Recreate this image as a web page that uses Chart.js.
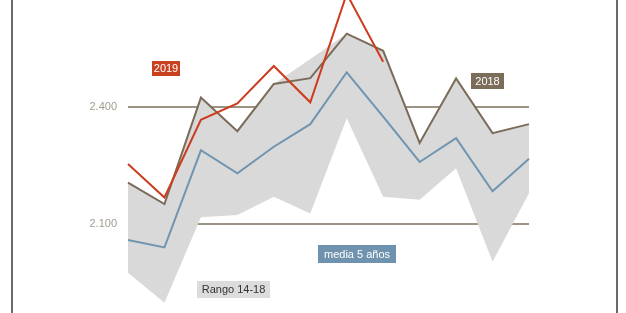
<!DOCTYPE html>
<html>
<head>
<meta charset="utf-8">
<script src="https://cdn.jsdelivr.net/npm/chart.js@4/dist/chart.umd.min.js"></script>
<style>
  body { margin: 0; background: #fff; }
  #marco { position: absolute; left: 11px; top: 0; width: 603px; height: 313px;
           border-left: 2px solid #6a6a6a; border-right: 2px solid #6a6a6a; }
  #wrap { position: absolute; left: 0; top: 0; width: 626px; height: 313px; }
</style>
</head>
<body>
<div id="marco"></div>
<div id="wrap"><canvas id="grafico"></canvas></div>
<script>
// datos
var meses = ['ene', 'feb', 'mar', 'abr', 'may', 'jun', 'jul', 'ago', 'sep', 'oct', 'nov', 'dic'];
var serie2019 = [2254, 2168, 2367, 2409, 2505, 2412, 2690, 2516, null, null, null, null];
var serie2018 = [2206, 2151, 2424, 2338, 2459, 2474, 2588, 2544, 2308, 2473, 2333, 2356];
var media5 = [2059, 2040, 2289, 2230, 2298, 2356, 2489, 2375, 2259, 2320, 2184, 2267];
var rangoMax = [2206, 2151, 2424, 2338, 2459, 2523, 2588, 2544, 2308, 2473, 2333, 2356];
var rangoMin = [1975, 1898, 2117, 2123, 2170, 2127, 2371, 2170, 2162, 2243, 2003, 2179];
var marcasY = [2100, 2400];

var fuente = '"Liberation Sans", Arial, sans-serif';

// etiquetas tipo caja sobre el grafico
var etiquetas = [
    { texto: '2019', x: 152, y: 61, w: 28, h: 15, fondo: '#c8421f', color: '#fff' },
    { texto: '2018', x: 471, y: 73, w: 33, h: 16, fondo: '#7c6c5a', color: '#fff' },
    { texto: 'media 5 años', x: 318, y: 245, w: 78, h: 18, fondo: '#6f93ae', color: '#fff' },
    { texto: 'Rango 14-18', x: 197, y: 281, w: 73, h: 17, fondo: '#dcdcdc', color: '#333' }
];

var pluginEtiquetas = {
    id: 'etiquetas',
    afterDraw: function (chart) {
        var ctx = chart.ctx;
        ctx.save();
        ctx.font = '11px ' + fuente;
        ctx.textAlign = 'center';
        ctx.textBaseline = 'middle';
        etiquetas.forEach(function (e) {
            ctx.fillStyle = e.fondo;
            ctx.fillRect(e.x, e.y, e.w, e.h);
            ctx.fillStyle = e.color;
            ctx.fillText(e.texto, e.x + e.w / 2, e.y + e.h / 2 + 0.5);
        });
        ctx.restore();
    }
};

function linea(label, data, color, orden) {
    return {
        label: label,
        data: data,
        borderColor: color,
        borderWidth: 2,
        pointRadius: 0,
        tension: 0,
        fill: false,
        clip: false,
        order: orden
    };
}

var ctx = document.getElementById('grafico');
var grafico = new Chart(ctx, {
    type: 'line',
    data: {
        labels: meses,
        datasets: [
            { label: 'max', data: rangoMax, borderWidth: 0, pointRadius: 0, fill: false, order: 10 },
            { label: 'Rango 14-18', data: rangoMin, borderWidth: 0, pointRadius: 0,
              backgroundColor: '#d9d9d9', fill: '-1', order: 9 },
            linea('media 5 años', media5, '#7095b0', 3),
            linea('2018', serie2018, '#7b6b59', 2),
            linea('2019', serie2019, '#cc3d1f', 1)
        ]
    },
    options: {
        responsive: true,
        maintainAspectRatio: false,
        animation: false,
        layout: { padding: { left: 0, right: 97, top: 0, bottom: 0 } },
        plugins: {
            legend: { display: false },
            tooltip: { enabled: false }
        },
        scales: {
            x: { display: false, offset: false },
            y: {
                min: 1888.7,
                max: 2657.4,
                afterBuildTicks: function (axis) {
                    axis.ticks = marcasY.map(function (v) { return { value: v }; });
                },
                afterFit: function (axis) { axis.width = 128; },
                border: { display: false },
                grid: { color: '#9d9383', lineWidth: 2, drawTicks: true, tickLength: 11, tickColor: 'rgba(0,0,0,0)' },
                ticks: {
                    padding: 0,
                    color: '#a29c8e',
                    font: { family: fuente, size: 11 },
                    callback: function (v) {
                        return String(v).replace(/(\d)(\d{3})$/, '$1.$2');
                    }
                }
            }
        }
    },
    plugins: [pluginEtiquetas]
});
</script>
</body>
</html>
